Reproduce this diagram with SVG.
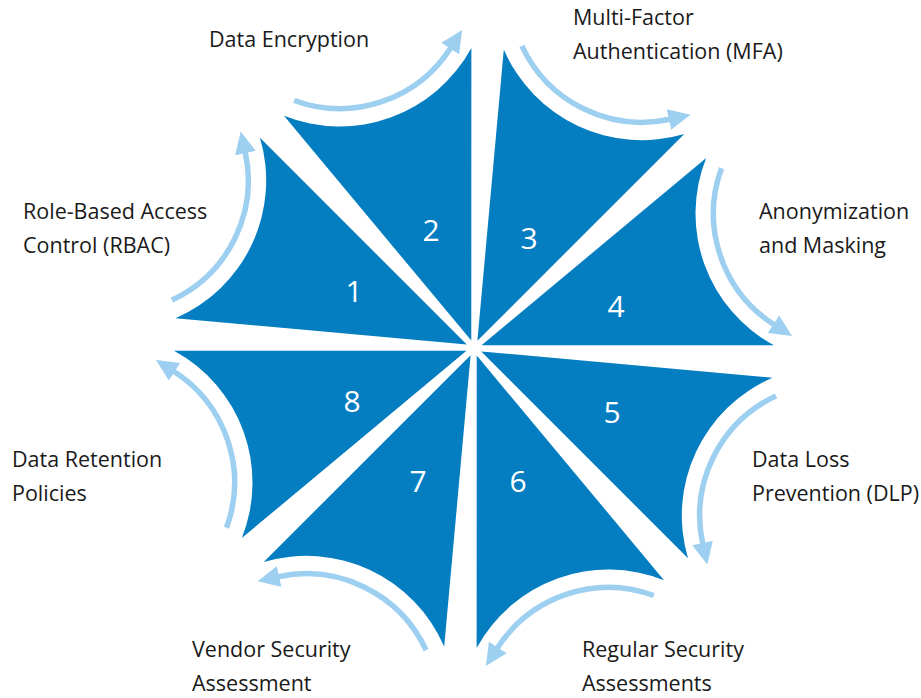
<svg xmlns="http://www.w3.org/2000/svg" width="921" height="698" viewBox="0 0 921 698">
  <style>
    .wedge { fill: #047dc1; }
    .flow { fill: none; stroke: #9dcff0; stroke-width: 5.5; marker-end: url(#head); }
    .num { font-family: "Open Sans", "Liberation Sans", sans-serif; font-size: 30px; fill: #ffffff; text-anchor: middle; }
    .label { font-family: "Open Sans", "Liberation Sans", sans-serif; font-size: 21.5px; fill: #1a1a1a; }
  </style>
  <defs>
    <!-- one segment, bisector along +x, apex near the hub, concave outer rim -->
    <path id="wedge-shape" d="M8 0 L283 -99.65 A150 150 0 0 0 283 99.65 Z"/>
    <!-- arc running just outside the rim, concentric with it -->
    <path id="flow-arc" d="M293.9 -84.8 A132 132 0 0 0 290.3 80.4"/>
    <marker id="head" markerUnits="userSpaceOnUse" markerWidth="24" markerHeight="24" viewBox="0 -12 24 24" refX="1" refY="0" orient="auto" overflow="visible">
      <path d="M0 -10.5 L22 0 L0 10.5 Z" fill="#9dcff0"/>
    </marker>
  </defs>

  <g id="connectors">
    <use href="#flow-arc" class="flow" transform="translate(474 348) rotate(205.1)"/>
    <use href="#flow-arc" class="flow" transform="translate(474 348) rotate(250.1)"/>
    <use href="#flow-arc" class="flow" transform="translate(474 348) rotate(295.1)"/>
    <use href="#flow-arc" class="flow" transform="translate(474 348) rotate(340.1)"/>
    <use href="#flow-arc" class="flow" transform="translate(474 348) rotate(25.1)"/>
    <use href="#flow-arc" class="flow" transform="translate(474 348) rotate(70.1)"/>
    <use href="#flow-arc" class="flow" transform="translate(474 348) rotate(115.1)"/>
    <use href="#flow-arc" class="flow" transform="translate(474 348) rotate(160.1)"/>
  </g>

  <g id="node-1">
    <use href="#wedge-shape" class="wedge" transform="translate(474 348) rotate(205.1)"/>
    <text class="num" x="354" y="302">1</text>
    <text class="label" x="23" y="219"><tspan x="23">Role-Based Access</tspan><tspan x="23" dy="34">Control (RBAC)</tspan></text>
  </g>
  <g id="node-2">
    <use href="#wedge-shape" class="wedge" transform="translate(474 348) rotate(250.1)"/>
    <text class="num" x="431" y="241">2</text>
    <text class="label" x="209" y="47">Data Encryption</text>
  </g>
  <g id="node-3">
    <use href="#wedge-shape" class="wedge" transform="translate(474 348) rotate(295.1)"/>
    <text class="num" x="529" y="249">3</text>
    <text class="label" x="573" y="25"><tspan x="573">Multi-Factor</tspan><tspan x="573" dy="34">Authentication (MFA)</tspan></text>
  </g>
  <g id="node-4">
    <use href="#wedge-shape" class="wedge" transform="translate(474 348) rotate(340.1)"/>
    <text class="num" x="616" y="317">4</text>
    <text class="label" x="759" y="219"><tspan x="759">Anonymization</tspan><tspan x="759" dy="34">and Masking</tspan></text>
  </g>
  <g id="node-5">
    <use href="#wedge-shape" class="wedge" transform="translate(474 348) rotate(25.1)"/>
    <text class="num" x="612" y="423">5</text>
    <text class="label" x="752" y="467"><tspan x="752">Data Loss</tspan><tspan x="752" dy="34">Prevention (DLP)</tspan></text>
  </g>
  <g id="node-6">
    <use href="#wedge-shape" class="wedge" transform="translate(474 348) rotate(70.1)"/>
    <text class="num" x="518" y="492">6</text>
    <text class="label" x="582" y="657"><tspan x="582">Regular Security</tspan><tspan x="582" dy="34">Assessments</tspan></text>
  </g>
  <g id="node-7">
    <use href="#wedge-shape" class="wedge" transform="translate(474 348) rotate(115.1)"/>
    <text class="num" x="418" y="492">7</text>
    <text class="label" x="192" y="657"><tspan x="192">Vendor Security</tspan><tspan x="192" dy="34">Assessment</tspan></text>
  </g>
  <g id="node-8">
    <use href="#wedge-shape" class="wedge" transform="translate(474 348) rotate(160.1)"/>
    <text class="num" x="352" y="412">8</text>
    <text class="label" x="12" y="467"><tspan x="12">Data Retention</tspan><tspan x="12" dy="34">Policies</tspan></text>
  </g>
</svg>
